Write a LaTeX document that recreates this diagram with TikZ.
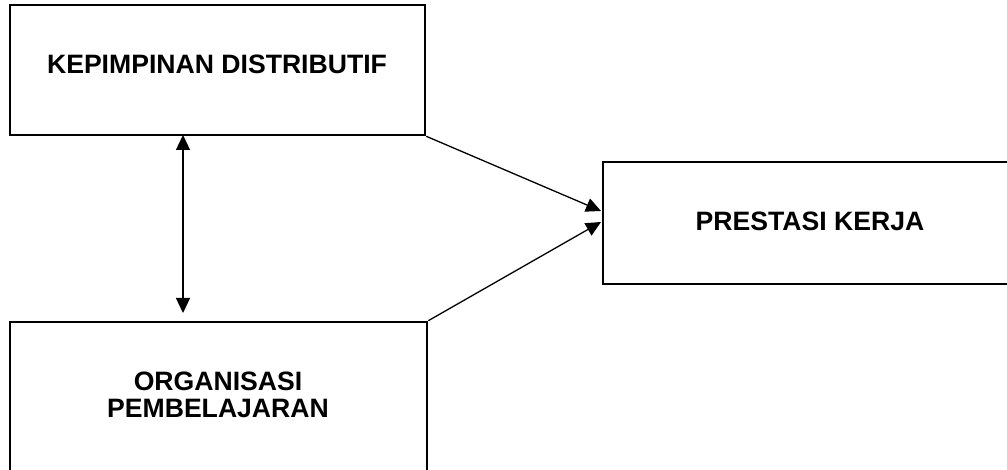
\documentclass[tikz,border=0pt]{standalone}
\usepackage{fontspec}
\setmainfont{Liberation Sans}
\usetikzlibrary{arrows.meta}
\begin{document}
\begin{tikzpicture}[x=1pt,y=-1pt,
  box/.style={draw=black,line width=2.6pt,inner sep=0pt,minimum width=#1},
  lbl/.style={font=\fontsize{26.6}{26.5}\selectfont\bfseries,align=center,inner sep=0pt},
  conn/.style={draw=black,line width=1.3pt,-{Triangle[length=15pt,width=14pt]}},
  conn2/.style={draw=black,line width=1.3pt,{Triangle[length=15pt,width=14pt]}-{Triangle[length=15pt,width=14pt]}}]
\useasboundingbox (0,0) rectangle (1007,470);
\clip (0,0) rectangle (1007,470);
\fill[white] (0,0) rectangle (1007,470);
% boxes
\node[box=415pt,minimum height=130pt] (kep) at (217.5,70) {};
\node[box=417pt,minimum height=150pt] (org) at (218.5,397) {};
\node[box=414pt,minimum height=122pt] (pre) at (810,223) {};
% labels
\node[lbl] (kept) at (217,64) {KEPIMPINAN DISTRIBUTIF};
\node[lbl] (orgt) at (218,395) {ORGANISASI\\PEMBELAJARAN};
\node[lbl] (pret) at (810,221) {PRESTASI KERJA};
% connector end points
\coordinate (vtop) at (183,135);
\coordinate (vbot) at (183,313);
\coordinate (t1) at (601,211);
\coordinate (t2) at (601,222);
\draw[conn2] (vtop) -- (vbot);
\draw[conn] (kep.south east) -- (t1);
\draw[conn] (org.north east) -- (t2);
\end{tikzpicture}
\end{document}
